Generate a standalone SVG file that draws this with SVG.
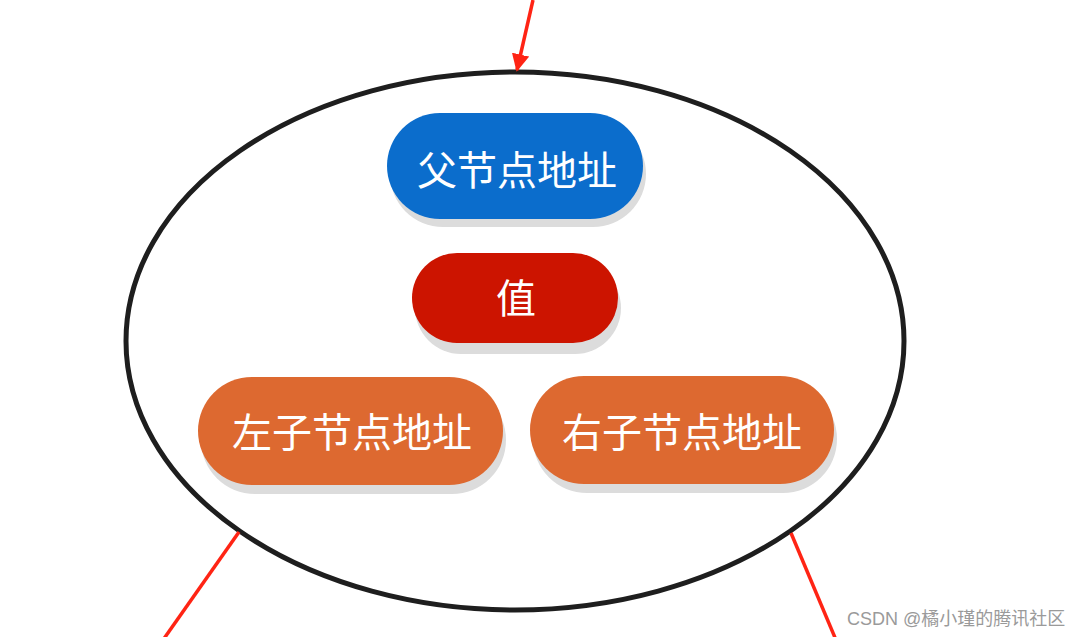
<svg xmlns="http://www.w3.org/2000/svg" width="1072" height="637" viewBox="0 0 1072 637">
<style>
.lbl{font-family:"Noto Sans CJK SC","Noto Sans",sans-serif;font-size:40px;fill:#ffffff;text-anchor:middle;dominant-baseline:central}
.sh{fill:#dcdcdc}
.edge{stroke:#ff2414;stroke-width:3.5;fill:none}
.wm{font-family:"Liberation Sans","Noto Sans CJK SC",sans-serif;font-size:18px;fill:#9a9a9a}
</style>
<defs>
<marker id="ah" viewBox="0 0 10 10" refX="9" refY="5" markerWidth="5" markerHeight="5" orient="auto" markerUnits="strokeWidth">
<path d="M0,0 L10,5 L0,10 z" fill="#ff2414"/>
</marker>
</defs>
<rect width="1072" height="637" fill="#ffffff"/>
<g id="container">
<ellipse cx="515" cy="341" rx="389" ry="269" fill="none" stroke="#1e1e1e" stroke-width="5"/>
</g>
<g id="connectors">
<line class="edge" x1="533" y1="0" x2="517" y2="70" marker-end="url(#ah)"/>
<line class="edge" x1="239" y1="532" x2="163" y2="640"/>
<line class="edge" x1="791" y1="533" x2="836" y2="640"/>
</g>
<g id="parent">
<rect class="sh" x="390" y="121" width="256" height="106" rx="53"/>
<rect x="387" y="113" width="256" height="106" rx="53" fill="#0b6dcc"/>
<text class="lbl" x="517" y="168">父节点地址</text>
</g>
<g id="value">
<rect class="sh" x="415" y="262" width="206" height="92" rx="46"/>
<rect x="412" y="253" width="206" height="90" rx="45" fill="#cc1400"/>
<text class="lbl" x="516" y="296">值</text>
</g>
<g id="left">
<rect class="sh" x="201" y="386" width="305" height="108" rx="54"/>
<rect x="198" y="377" width="305" height="108" rx="54" fill="#dd6930"/>
<text class="lbl" x="352" y="430">左子节点地址</text>
</g>
<g id="right">
<rect class="sh" x="533" y="385" width="304" height="108" rx="54"/>
<rect x="530" y="376" width="304" height="108" rx="54" fill="#dd6930"/>
<text class="lbl" x="682" y="430">右子节点地址</text>
</g>
<text class="wm" x="847" y="625">CSDN @橘小瑾的腾讯社区</text>
</svg>
